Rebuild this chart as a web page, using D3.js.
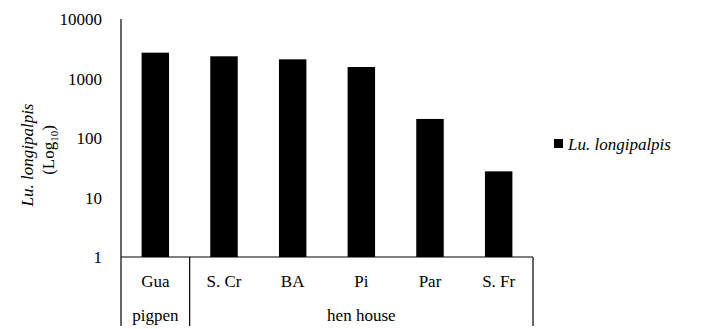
<!DOCTYPE html>
<html>
<head>
<meta charset="utf-8">
<script src="https://cdn.jsdelivr.net/npm/d3@7"></script>
<style>
  body { margin: 0; background: #fff; }
</style>
</head>
<body>
<svg id="chart" width="704" height="329"></svg>
<script>
// Sand fly counts per collection site (log scale)
const sites = ["Gua", "S. Cr", "BA", "Pi", "Par", "S. Fr"];
const counts = [2716, 2360, 2100, 1561, 209, 27.5];
const yTicks = [1, 10, 100, 1000, 10000];
const groups = [
  { label: "pigpen", from: "Gua", to: "Gua" },
  { label: "hen house", from: "S. Cr", to: "S. Fr" }
];
const seriesName = "Lu. longipalpis";

const FONT = "'Liberation Serif', 'Times New Roman', Times, 'DejaVu Serif', serif";
const svg = d3.select("#chart").attr("font-family", FONT);
const plotLeft = 121, plotRight = 533, plotTop = 19, plotBase = 257, plotBottom = 326;

const x = d3.scaleBand().domain(sites).range([plotLeft, plotRight]).paddingInner(0.6).paddingOuter(0.3);
const xb = d3.scaleBand().domain(sites).range([plotLeft, plotRight]);
const y = d3.scaleLog().domain([1, 10000]).range([plotBase, plotTop]);

// bars
svg.append("g").selectAll("rect")
  .data(sites.map((s, i) => ({ s, v: counts[i] })))
  .join("rect")
  .attr("x", d => x(d.s))
  .attr("y", d => y(d.v))
  .attr("width", x.bandwidth())
  .attr("height", d => plotBase - y(d.v))
  .attr("fill", "#000");

// y axis: labels only, no tick marks
const yAxis = svg.append("g")
  .attr("transform", `translate(${plotLeft},0)`)
  .call(d3.axisLeft(y).tickValues(yTicks).tickFormat(d3.format("d")).tickSize(0).tickPadding(19));
yAxis.attr("font-family", FONT).attr("font-size", null);
yAxis.select(".domain").remove();
yAxis.selectAll("text").style("font-family", FONT).style("font-size", "17px").attr("fill", "#000").attr("dy", "0.35em");

const lineG = svg.append("g").attr("stroke", "#000").attr("stroke-width", 1.2);
lineG.append("line").attr("x1", plotLeft).attr("x2", plotLeft).attr("y1", plotTop).attr("y2", plotBottom);
lineG.append("line").attr("x1", plotLeft).attr("x2", plotRight).attr("y1", plotBase).attr("y2", plotBase);
lineG.append("line").attr("x1", plotRight).attr("x2", plotRight).attr("y1", plotBase).attr("y2", plotBottom);
// group separators
groups.slice(1).forEach(g => {
  const gx = xb(g.from);
  lineG.append("line").attr("x1", gx).attr("x2", gx).attr("y1", plotBase).attr("y2", plotBottom);
});

// category labels
svg.append("g").selectAll("text")
  .data(sites)
  .join("text")
  .attr("x", d => xb(d) + xb.bandwidth() / 2)
  .attr("y", 287)
  .attr("text-anchor", "middle")
  .style("font-family", FONT)
  .style("font-size", "17px")
  .text(d => d);

// group labels
svg.append("g").selectAll("text")
  .data(groups)
  .join("text")
  .attr("x", g => (xb(g.from) + xb(g.to) + xb.bandwidth()) / 2)
  .attr("y", 321)
  .attr("text-anchor", "middle")
  .style("font-family", FONT)
  .style("font-size", "17px")
  .text(g => g.label);

// y axis title
svg.append("text")
  .attr("transform", "translate(33,155) rotate(-90)")
  .attr("text-anchor", "middle")
  .style("font-family", FONT)
  .style("font-size", "17px")
  .style("font-style", "italic")
  .text(seriesName);
const yt2 = svg.append("text")
  .attr("transform", "translate(54,150) rotate(-90)")
  .attr("text-anchor", "middle")
  .style("font-family", FONT)
  .style("font-size", "17px");
yt2.append("tspan").text("(Log");
yt2.append("tspan").attr("font-size", "11px").attr("dy", 4).text("10");
yt2.append("tspan").attr("dy", -4).text(")");

// legend
const lg = svg.append("g").attr("transform", "translate(554,139)");
lg.append("rect").attr("width", 9).attr("height", 9).attr("fill", "#000");
lg.append("text").attr("x", 14).attr("y", 10.5)
  .style("font-family", FONT)
  .style("font-size", "17px").style("font-style", "italic")
  .text(seriesName);
</script>
</body>
</html>
